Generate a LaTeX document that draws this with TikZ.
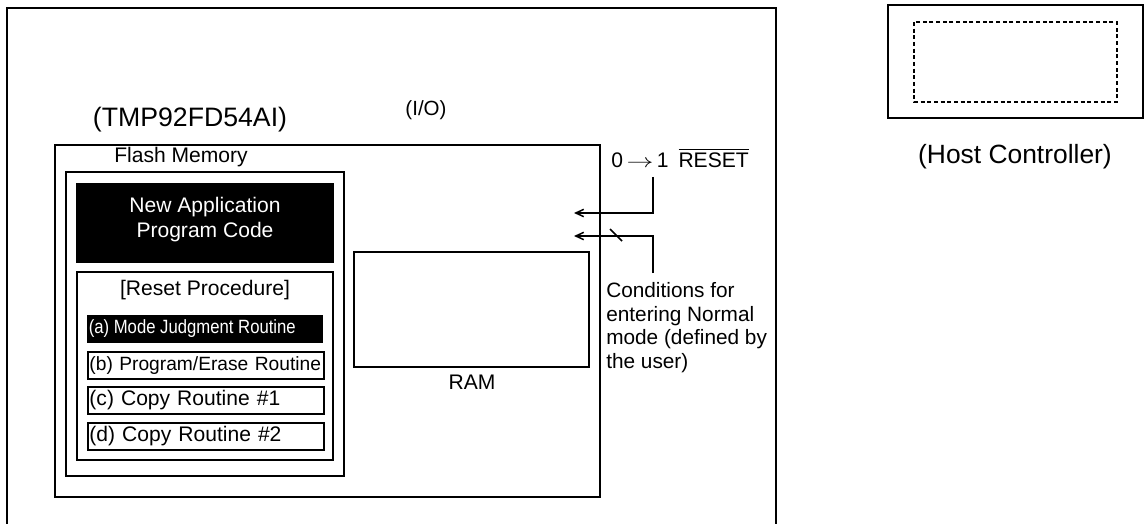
\documentclass[tikz,border=0pt]{standalone}
\usepackage{amsmath}
\usepackage{fontspec}
\setmainfont{Liberation Sans}
\usetikzlibrary{arrows.meta, positioning}

\tikzset{
  lbl/.style={inner sep=0pt, font=\fontsize{15.8pt}{18.8pt}\selectfont},
  biglbl/.style={inner sep=0pt, font=\fontsize{20pt}{24pt}\selectfont},
  smllbl/.style={inner sep=0pt, font=\fontsize{14.4pt}{17pt}\selectfont},
  thkbox/.style={draw, line width=1.6pt},
  thnbox/.style={draw, line width=1pt},
  rtnbox/.style={draw, line width=1.3pt, anchor=north west, inner xsep=1.2pt,
    inner ysep=0pt, text width=174.6pt, align=left, minimum height=20.25pt},
  sig/.style={line width=1.1pt, -{Straight Barb[length=6pt, width=5.5pt]}},
}

\begin{document}
\begin{tikzpicture}[x=0.75pt, y=-0.75pt]

% Page: 1145 x 524 px, one unit = one px, y grows downward
\useasboundingbox (0,0) rectangle (1145,524);

% --- Target board (open at the bottom) ---
\draw[line width=2pt] (7,524) -- (7,8) -- (776,8) -- (776,524);
\node[biglbl] (mcu) at (190,120) {(TMP92FD54AI)};
\node[lbl, font=\fontsize{15.4pt}{18pt}\selectfont] (io) at (426,110) {(I/O)};

% --- Microcontroller ---
\draw[thnbox] (55,145) rectangle (600,497);

% --- Flash memory ---
\node[lbl] (flash) at (181,157) {Flash Memory};
\draw[thkbox] (66,172) rectangle (344,476);

% New application code
\fill[black] (76,183) rectangle (334,263);
\node[lbl, text=white, align=center, font=\fontsize{15.8pt}{18.75pt}\selectfont]
  (newapp) at (205,219.5) {New Application\\Program Code};

% Reset procedure
\draw[thnbox] (77,272) rectangle (333,460);
\node[lbl] (rstproc) at (205,290) {[Reset Procedure]};

\fill[black] (87,315) rectangle (323,343);
\node[smllbl, text=white, anchor=west] (rtna) at (88.5,329)
  {\scalebox{0.87}[1]{(a) Mode Judgment Routine}};
\node[rtnbox, smllbl, inner xsep=1.2pt] (rtnb) at (87,351) {(b) Program/Erase Routine};
\node[rtnbox, lbl, inner xsep=1.2pt] (rtnc) at (87,386) {(c) Copy Routine \#1};
\node[rtnbox, lbl, inner xsep=1.2pt] (rtnd) at (87,422) {(d) Copy Routine \#2};

% --- RAM ---
\draw[thnbox] (354,252) rectangle (589,367);
\node[lbl] (ram) at (472,382) {RAM};

% --- Reset and mode signals ---
\node[lbl, anchor=west] (rst) at (611,158)
  {0\,\scalebox{1.4}[1]{$\rightarrow$}\,1\hspace{0.47em}$\overline{\mbox{RESET}}$};
\node[lbl, anchor=west, align=left, font=\fontsize{15.6pt}{17.8pt}\selectfont]
  (cond) at (606,327.5)
  {Conditions for\\entering Normal\\mode (defined by\\the user)};

\coordinate (rstsrc) at (653,177);
\coordinate (rsttip) at (574,213);
\coordinate (cndsrc) at (653,273);
\coordinate (cndtip) at (574,236);
\draw[sig] (rstsrc) |- (rsttip);
\draw[sig] (cndsrc) |- (cndtip);
\draw[line width=1.1pt] (610,229) -- (622,241);

% --- Host controller ---
\draw[line width=2pt] (888,5) rectangle (1143,118);
\draw[line width=0.9pt, dash pattern=on 3pt off 2pt] (914,22) rectangle (1117,102);
\node[biglbl, font=\fontsize{19.8pt}{24pt}\selectfont] (host) at (1015,157)
  {(Host Controller)};

\end{tikzpicture}
\end{document}
